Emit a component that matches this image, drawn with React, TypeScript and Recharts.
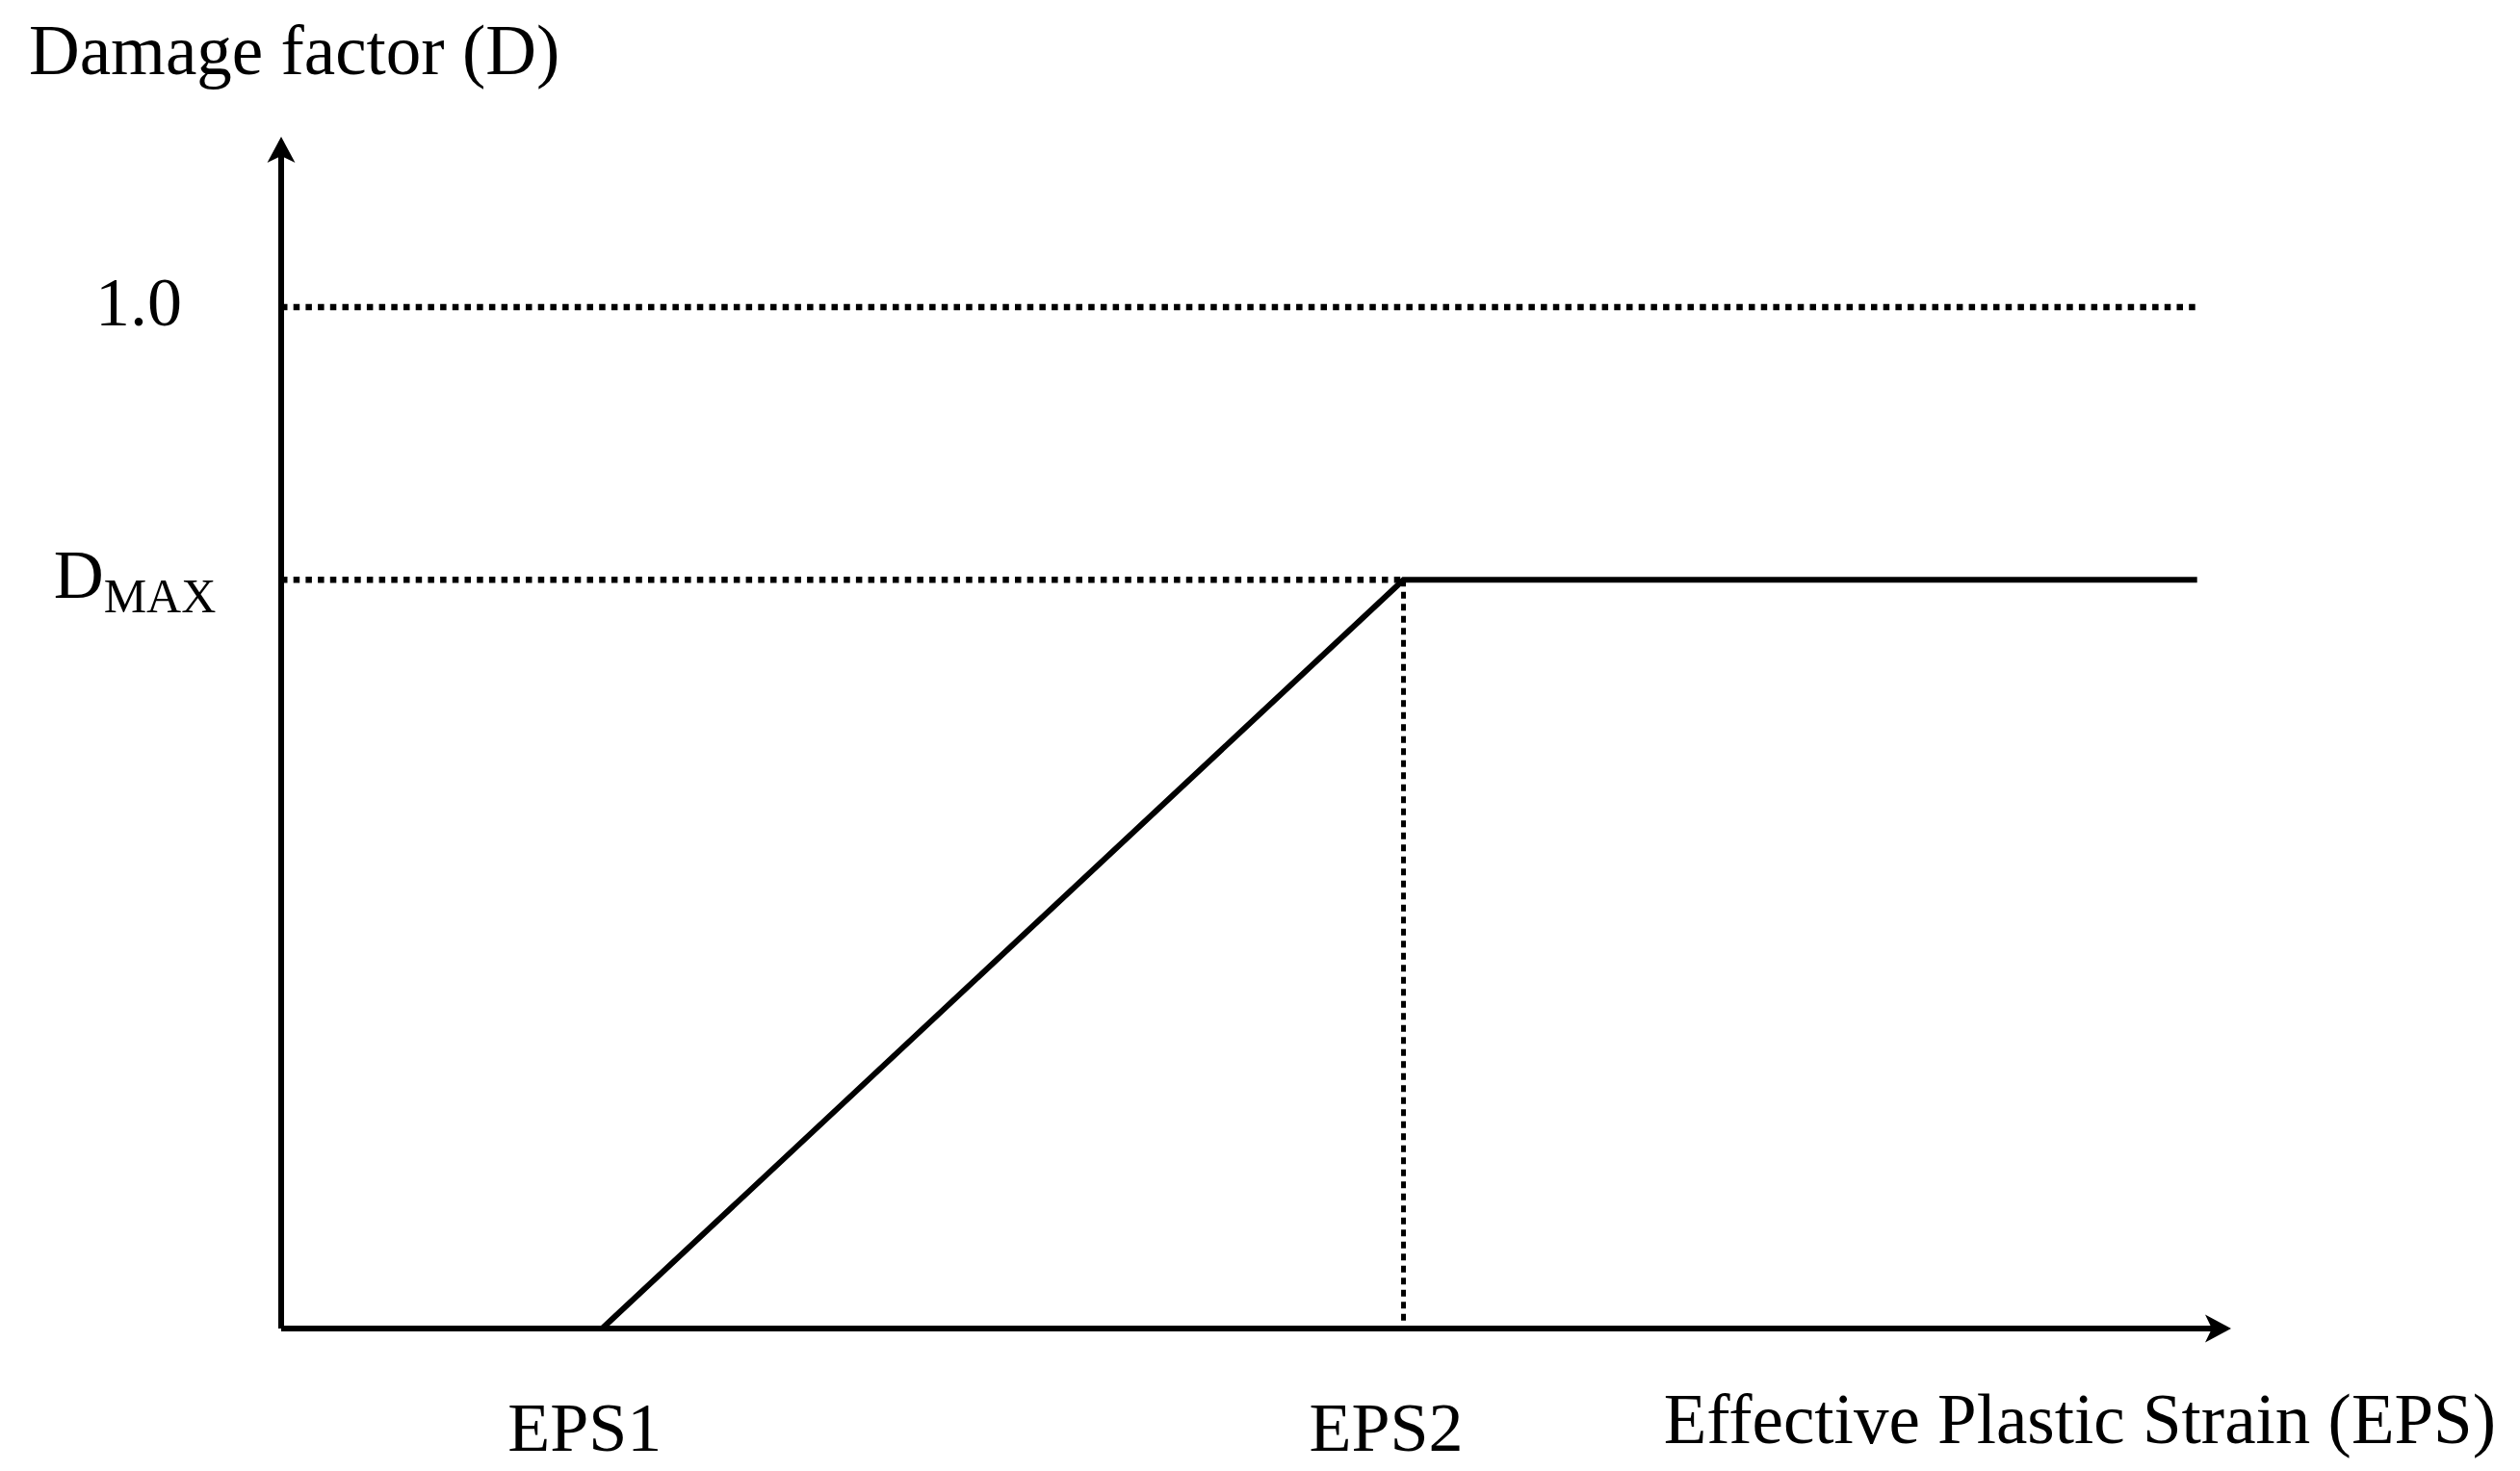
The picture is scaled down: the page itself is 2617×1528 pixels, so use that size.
import React from "react";
import { LineChart, Line, XAxis, YAxis, ReferenceLine } from "recharts";

// damage curve: piecewise linear D(EPS)
const curveStrain = [1.65, 5.77, 9.85];
const curveDamage = [0, 0.733, 0.733];

const strainTicks = [1.65, 5.77];
const strainTickLabels = ["EPS1", "EPS2"];

const damageTicks = [0.733, 1.0];
const damageTickLabels = ["DMAX", "1.0"];

const X_MAX = 10;
const Y_MAX = 1.162;
const D_ONE = 1.0;
const D_MAX = 0.733;
const EPS2 = 5.77;
const EPS_END = 9.85;

const FONT = "'Liberation Serif', 'Times New Roman', serif";

const data = curveStrain.map((x, i) => ({ x, d: curveDamage[i] }));

const XTick = (props: any) => {
  const { x, y, payload } = props;
  const idx = strainTicks.indexOf(payload.value);
  return (
    <text x={x - 18} y={y + 119} textAnchor="middle" fontSize={72} fontFamily={FONT} fill="#000">
      {strainTickLabels[idx]}
    </text>
  );
};

const YTick = (props: any) => {
  const { x, y, payload } = props;
  const idx = damageTicks.indexOf(payload.value);
  const label = damageTickLabels[idx];
  if (label === "DMAX") {
    return (
      <text x={x - 144} y={y + 19} textAnchor="middle" fontSize={72} fontFamily={FONT} fill="#000">
        D
        <tspan fontSize={50} dy={15}>MAX</tspan>
      </text>
    );
  }
  return (
    <text x={x - 140} y={y + 19} textAnchor="middle" fontSize={72} fontFamily={FONT} fill="#000">
      {label}
    </text>
  );
};

const axisShape = (p: any) => (
  <line
    x1={p.x1}
    y1={p.y1}
    x2={p.x2}
    y2={p.y2}
    stroke="#000"
    strokeWidth={6}
    markerEnd="url(#arrowhead)"
  />
);

export default function App() {
  return (
    <div style={{ position: "absolute", left: 0, top: 0, background: "#fff" }}>
      <svg width={0} height={0} style={{ position: "absolute" }}>
        <defs>
          <marker
            id="arrowhead"
            markerUnits="userSpaceOnUse"
            markerWidth={40}
            markerHeight={40}
            refX={22}
            refY={0}
            orient="auto"
            overflow="visible"
          >
            <path d="M 27 0 L 0 -14.5 L 7 0 L 0 14.5 Z" fill="#000" />
          </marker>
        </defs>
      </svg>
      <LineChart
        width={2617}
        height={1528}
        data={data}
        margin={{ top: 147, right: 305, left: 0, bottom: 0 }}
      >
        <XAxis
          type="number"
          dataKey="x"
          domain={[0, X_MAX]}
          ticks={strainTicks}
          tick={<XTick />}
          axisLine={false}
          tickLine={false}
          height={148}
          allowDataOverflow
          label={{
            content: (p: any) => {
              const vb = p.viewBox;
              return (
                <text
                  x={vb.x + vb.width + 280}
                  y={vb.y + 119}
                  textAnchor="end"
                  fontSize={73}
                  fontFamily={FONT}
                  fill="#000"
                >
                  Effective Plastic Strain (EPS)
                </text>
              );
            },
          }}
        />
        <YAxis
          type="number"
          domain={[0, Y_MAX]}
          ticks={damageTicks}
          tick={<YTick />}
          axisLine={false}
          tickLine={false}
          width={292}
          allowDataOverflow
          label={{
            content: (p: any) => {
              const vb = p.viewBox;
              return (
                <text
                  x={vb.x + 30}
                  y={vb.y - 70}
                  textAnchor="start"
                  fontSize={73}
                  fontFamily={FONT}
                  fill="#000"
                >
                  Damage factor (D)
                </text>
              );
            },
          }}
        />
        <ReferenceLine
          segment={[{ x: 0, y: D_ONE }, { x: EPS_END, y: D_ONE }]}
          stroke="#000"
          strokeWidth={6.5}
          strokeDasharray="6.5 6.2"
        />
        <ReferenceLine
          segment={[{ x: 0, y: D_MAX }, { x: EPS2, y: D_MAX }]}
          stroke="#000"
          strokeWidth={6.5}
          strokeDasharray="6.5 6.2"
        />
        <ReferenceLine
          segment={[{ x: EPS2, y: D_MAX }, { x: EPS2, y: 0 }]}
          stroke="#000"
          strokeWidth={5}
          strokeDasharray="7 5.5"
        />
        <ReferenceLine segment={[{ x: 0, y: 0 }, { x: 0, y: Y_MAX }]} shape={axisShape} />
        <ReferenceLine segment={[{ x: 0, y: 0 }, { x: X_MAX, y: 0 }]} shape={axisShape} />
        <Line
          type="linear"
          dataKey="d"
          stroke="#000"
          strokeWidth={6}
          dot={false}
          activeDot={false}
          isAnimationActive={false}
        />
      </LineChart>
    </div>
  );
}
